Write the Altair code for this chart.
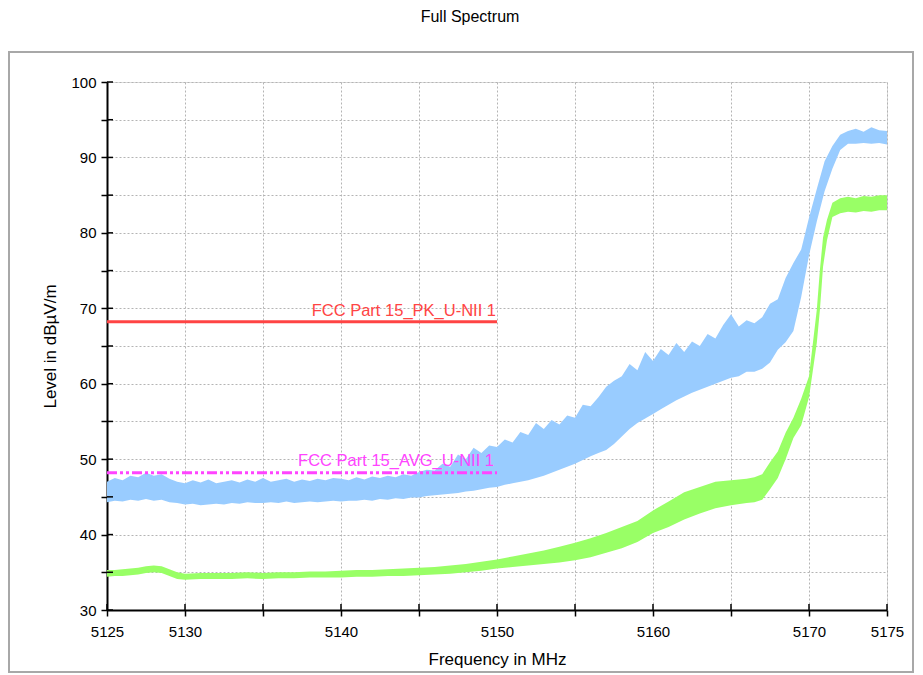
import altair as alt
import pandas as pd

# ---------------- data ----------------
x_ticks = [5125, 5130, 5135, 5140, 5145, 5150, 5155, 5160, 5165, 5170, 5175]
x_labelled = [5125, 5130, 5140, 5150, 5160, 5170, 5175]
y_ticks = [30, 35, 40, 45, 50, 55, 60, 65, 70, 75, 80, 85, 90, 95, 100]

# Peak trace (light blue) - lower / upper envelope of the noisy trace
blue_freq = [5125, 5125.5, 5126, 5126.5, 5127, 5127.5, 5128, 5128.5, 5129, 5129.5,
             5130, 5130.5, 5131, 5131.5, 5132, 5132.5, 5133, 5133.5, 5134, 5134.5,
             5135, 5135.5, 5136, 5136.5, 5137, 5137.5, 5138, 5138.5, 5139, 5139.5,
             5140, 5140.5, 5141, 5141.5, 5142, 5142.5, 5143, 5143.5, 5144, 5144.5,
             5145, 5145.5, 5146, 5146.5, 5147, 5147.5, 5148, 5148.5, 5149, 5149.5,
             5150, 5150.5, 5151, 5151.5, 5152, 5152.5, 5153, 5153.5, 5154, 5154.5,
             5155, 5155.5, 5156, 5156.5, 5157, 5157.5, 5158, 5158.5, 5159, 5159.5,
             5160, 5160.5, 5161, 5161.5, 5162, 5162.5, 5163, 5163.5, 5164, 5164.5,
             5165, 5165.5, 5166, 5166.5, 5167, 5167.5, 5168, 5168.5, 5169, 5169.5,
             5170, 5170.5, 5171, 5171.5, 5172, 5172.5, 5173, 5173.5, 5174, 5174.5, 5175]
blue_lo = [44.3, 44.5, 44.4, 44.6, 44.5, 44.7, 44.5, 44.6, 44.3, 44.2,
           44.0, 44.1, 43.9, 44.0, 44.1, 44.0, 44.2, 44.1, 44.3, 44.2,
           44.2, 44.3, 44.2, 44.4, 44.2, 44.3, 44.4, 44.3, 44.4, 44.5,
           44.4, 44.5, 44.5, 44.6, 44.5, 44.7, 44.6, 44.8, 44.7, 44.9,
           44.9, 45.1, 45.2, 45.3, 45.4, 45.5, 45.7, 45.8, 46.0, 46.2,
           46.3, 46.6, 46.8, 47.0, 47.2, 47.5, 47.8, 48.2, 48.6, 49.0,
           49.4, 49.9, 50.4, 50.8, 51.2, 52.0, 53.0, 54.0, 54.8, 55.4,
           56.0, 56.6, 57.2, 57.8, 58.3, 58.8, 59.2, 59.6, 60.0, 60.4,
           60.8, 61.0, 61.6, 61.6, 62.0, 62.8, 64.5, 65.5, 67.0, 71.5,
           77.0, 81.5, 85.5, 88.5, 91.0, 91.8, 91.8, 91.9, 91.8, 91.9, 91.7]
blue_hi = [47.0, 47.5, 47.2, 47.8, 47.6, 48.2, 47.8, 48.0, 47.4, 47.0,
           46.8, 47.2, 46.9, 47.3, 46.8, 47.0, 47.2, 46.9, 47.3, 47.0,
           47.5, 47.0, 47.2, 47.4, 47.0, 47.3, 47.1, 47.4, 47.2, 47.5,
           47.4, 47.2, 47.6, 47.3, 47.7, 47.5, 47.8, 47.6, 48.0, 47.8,
           48.3, 48.6, 48.5, 49.4, 49.0, 50.6, 50.0, 51.5, 50.8, 51.8,
           51.6, 52.6, 52.2, 53.6, 53.2, 54.8, 54.0, 55.2, 54.6, 55.8,
           55.5, 57.2, 57.0, 58.2, 59.6, 60.4, 61.0, 62.6, 61.8, 64.2,
           63.0, 64.6, 63.8, 65.4, 64.2, 65.6, 65.0, 66.6, 66.0, 67.8,
           69.2, 67.6, 68.4, 68.0, 68.8, 70.6, 71.2, 74.0, 76.0, 77.8,
           82.0, 85.8, 89.5, 91.5, 93.0, 93.5, 93.8, 93.4, 94.0, 93.6, 93.5]

# Average trace (light green) - lower / upper envelope
green_freq = [5125, 5125.5, 5126, 5126.5, 5127, 5127.5, 5128, 5128.5, 5129, 5129.5,
              5130, 5131, 5132, 5133, 5134, 5135, 5136, 5137, 5138, 5139,
              5140, 5141, 5142, 5143, 5144, 5145, 5146, 5147, 5148, 5149,
              5150, 5151, 5152, 5153, 5154, 5155, 5156, 5157, 5158, 5159,
              5160, 5161, 5162, 5163, 5164, 5165, 5166, 5166.5, 5167, 5167.5,
              5168, 5168.5, 5169, 5169.5, 5170, 5170.25, 5170.5, 5170.7, 5170.9, 5171.15,
              5171.5, 5172, 5172.5, 5173, 5173.5, 5174, 5174.5, 5175]
green_lo = [34.4, 34.5, 34.5, 34.6, 34.7, 34.9, 35.0, 34.9, 34.5, 34.1,
            34.0, 34.1, 34.1, 34.1, 34.2, 34.1, 34.2, 34.2, 34.3, 34.3,
            34.3, 34.4, 34.4, 34.5, 34.5, 34.6, 34.7, 34.8, 35.0, 35.2,
            35.5, 35.7, 35.9, 36.1, 36.3, 36.6, 37.0, 37.6, 38.2, 39.0,
            40.2, 41.0, 42.0, 42.8, 43.5, 43.9, 44.2, 44.3, 44.6, 46.0,
            47.5, 50.0, 52.8, 54.5, 58.2, 61.8, 65.4, 69.8, 75.5, 79.0,
            82.1, 82.6, 82.8, 82.7, 82.9, 82.8, 83.0, 83.0]
green_hi = [35.3, 35.3, 35.4, 35.5, 35.6, 35.8, 35.9, 35.8, 35.4, 35.0,
            34.8, 34.9, 34.9, 34.9, 35.0, 34.9, 35.0, 35.0, 35.1, 35.1,
            35.2, 35.3, 35.3, 35.4, 35.5, 35.6, 35.7, 35.9, 36.1, 36.4,
            36.7, 37.1, 37.5, 37.9, 38.4, 38.9, 39.5, 40.2, 41.0, 41.8,
            43.2, 44.4, 45.6, 46.3, 47.0, 47.2, 47.4, 47.6, 48.0, 49.6,
            51.0, 53.5, 55.5, 58.0, 61.0, 65.4, 69.8, 75.1, 79.4, 81.7,
            84.0, 84.6, 84.8, 84.6, 84.9, 84.8, 85.0, 85.0]

# Limit lines
limit_names = ["FCC Part 15_PK_U-NII 1", "FCC Part 15_AVG_U-NII 1"]
limit_values = [68.2, 48.2]
limit_start = [5125, 5125]
limit_end = [5150, 5150]

# ---------------- tables ----------------
blue = pd.DataFrame({"f": blue_freq, "lo": blue_lo, "hi": blue_hi})
green = pd.DataFrame({"f": green_freq, "lo": green_lo, "hi": green_hi})
limits = pd.DataFrame({"name": limit_names, "v": limit_values,
                       "f0": limit_start, "f1": limit_end})
xt = pd.DataFrame({"f": x_ticks})
yt = pd.DataFrame({"v": y_ticks})

FONT = "Liberation Sans"
xscale = alt.Scale(domain=[5125, 5175], nice=False, zero=False)
yscale = alt.Scale(domain=[30, 100], nice=False, zero=False)

lab_list = ",".join(str(v) for v in x_labelled)
x_axis = alt.Axis(values=x_ticks, format="d",
                  labelExpr=f"indexof([{lab_list}], datum.value) >= 0 ? datum.label : ''",
                  grid=True, gridDash=[2, 2], gridColor="#b4b4b4", gridWidth=1,
                  domainColor="black", domainWidth=2, tickColor="black", tickWidth=1.5,
                  tickSize=6, labelFont=FONT, labelFontSize=15, labelColor="black",
                  labelPadding=8, labelFlush=False, labelOverlap=False,
                  title="Frequency in MHz", titleFont=FONT, titleFontSize=17,
                  titleFontWeight="normal", titleColor="black", titlePadding=12)
y_axis = alt.Axis(values=y_ticks,
                  labelExpr="datum.value % 10 == 0 ? datum.label : ''",
                  grid=True, gridDash=[2, 2], gridColor="#b4b4b4", gridWidth=1,
                  domainColor="black", domainWidth=2, tickColor="black", tickWidth=1.5,
                  tickSize=6, labelFont=FONT, labelFontSize=15, labelColor="black",
                  labelPadding=5, labelFlush=False, labelOverlap=False,
                  title="Level in dBµV/m", titleFont=FONT, titleFontSize=17,
                  titleFontWeight="normal", titleColor="black", titlePadding=11)


def X(field):
    return alt.X(field, scale=xscale, axis=x_axis)


def Y(field):
    return alt.Y(field, scale=yscale, axis=y_axis)


frame = alt.Chart(xt).mark_rect(fill=None, stroke="#a8a8a8", strokeWidth=2).encode(
    x=alt.value(-98), x2=alt.value(806), y=alt.value(-30), y2=alt.value(590))

blue_area = alt.Chart(blue).mark_area(color="#99ccff", opacity=1).encode(
    x=X("f:Q"), y=Y("lo:Q"), y2="hi:Q")

green_area = alt.Chart(green).mark_area(color="#99ff66", opacity=1).encode(
    x=X("f:Q"), y=Y("lo:Q"), y2="hi:Q")

pk = limits[limits["name"].str.contains("PK")]
avg = limits[limits["name"].str.contains("AVG")]

pk_line = alt.Chart(pk).mark_rule(color="#ff4444", strokeWidth=3).encode(
    x=X("f0:Q"), x2="f1:Q", y=Y("v:Q"))
avg_line = alt.Chart(avg).mark_rule(color="#ff44ff", strokeWidth=3,
                                    strokeDash=[10, 3, 3, 3, 3, 3]).encode(
    x=X("f0:Q"), x2="f1:Q", y=Y("v:Q"))

pk_text = alt.Chart(pk).mark_text(color="#ff4444", font=FONT, fontSize=16.5, align="right",
                                  baseline="alphabetic", dx=-1, dy=-6).encode(
    x=X("f1:Q"), y=Y("v:Q"), text="name:N")
avg_text = alt.Chart(avg).mark_text(color="#ff44ff", font=FONT, fontSize=16.5, align="right",
                                    baseline="alphabetic", dx=-3, dy=-7).encode(
    x=X("f1:Q"), y=Y("v:Q"), text="name:N")

# inner halves of the crossing ticks
y_in = alt.Chart(yt).mark_rule(color="black", strokeWidth=1.5).encode(
    y=Y("v:Q"), x=alt.value(0), x2=alt.value(6))
x_in = alt.Chart(xt).mark_rule(color="black", strokeWidth=1.5).encode(
    x=X("f:Q"), y=alt.value(528), y2=alt.value(522))

title = alt.Chart(pd.DataFrame({"t": ["Full Spectrum"]})).mark_text(
    font=FONT, fontSize=16, color="black", align="center", baseline="middle").encode(
    x=alt.value(363), y=alt.value(-65), text="t:N")

chart = alt.layer(frame, blue_area, green_area, pk_line, avg_line, pk_text, avg_text,
                  y_in, x_in, title).properties(
    width=780, height=528,
    autosize=alt.AutoSizeParams(type="none"),
    padding={"left": 99, "top": 74, "right": 28, "bottom": 64},
).configure_view(stroke=None).configure(background="white")

chart.save("out.html", embed_options={"renderer": "svg", "actions": False})
